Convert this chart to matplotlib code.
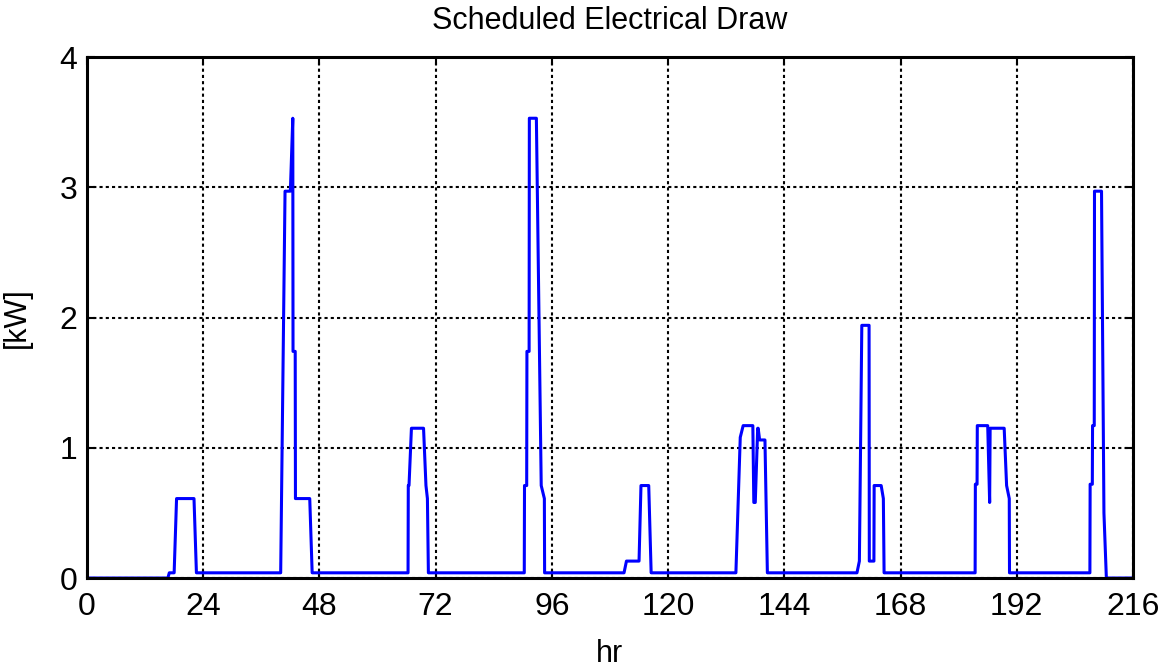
import numpy as np
import matplotlib
matplotlib.use("Agg")
import matplotlib.pyplot as plt

plt.rcParams['font.family'] = ['Liberation Sans', 'DejaVu Sans']

# schedule breakpoints: hour of day count and electrical draw in kW
hours = [0, 16.7, 17.0, 18.0, 18.5, 22.1, 22.6,
         40.0, 40.9, 42.0, 42.5, 42.55, 43.0, 43.05, 46.0, 46.5,
         66.3, 66.35, 66.5, 67.0, 69.5, 70.0, 70.3, 70.5,
         90.3, 90.35, 90.8, 90.85, 91.3, 91.35, 92.8, 93.8, 94.45, 94.5,
         110.9, 111.4, 114.0, 114.4, 116.0, 116.5,
         134.0, 134.9, 135.5, 137.5, 137.7, 138.0, 138.5, 138.6, 138.9, 140.0, 140.5,
         159.0, 159.5, 160.0, 161.5, 161.55, 162.5, 162.55, 164.0, 164.45, 164.6,
         183.4, 183.45, 183.8, 183.85, 186.0, 186.4, 186.5, 189.4, 189.9, 190.45, 190.5,
         207.1, 207.15, 207.6, 207.65, 208.0, 208.05, 209.5, 210.0, 210.5, 216]
kw = [0, 0, 0.04, 0.04, 0.61, 0.61, 0.04,
      0.04, 2.97, 2.97, 3.53, 1.74, 1.74, 0.61, 0.61, 0.04,
      0.04, 0.71, 0.71, 1.15, 1.15, 0.71, 0.61, 0.04,
      0.04, 0.71, 0.71, 1.74, 1.74, 3.53, 3.53, 0.71, 0.61, 0.04,
      0.04, 0.13, 0.13, 0.71, 0.71, 0.04,
      0.04, 1.08, 1.17, 1.17, 0.58, 0.58, 1.15, 1.15, 1.06, 1.06, 0.04,
      0.04, 0.13, 1.94, 1.94, 0.13, 0.13, 0.71, 0.71, 0.61, 0.04,
      0.04, 0.72, 0.72, 1.17, 1.17, 0.58, 1.15, 1.15, 0.71, 0.61, 0.04,
      0.04, 0.72, 0.72, 1.17, 1.17, 2.97, 2.97, 0.5, 0, 0]

xticks = [0, 24, 48, 72, 96, 120, 144, 168, 192, 216]
yticks = [0, 1, 2, 3, 4]

fig = plt.figure(figsize=(11.69, 6.67), dpi=100)
ax = fig.add_axes([0.0744, 0.1334, 0.8948, 0.7811])

ax.plot(hours, kw, color='#0000ff', linewidth=2.2)

ax.set_xlim(0, 216)
ax.set_ylim(0, 4)
ax.set_xticks(xticks)
ax.set_yticks(yticks)
ax.tick_params(direction='in', length=6, width=1.5, labelsize=23,
               top=True, right=True, pad=7)
ax.tick_params(axis='x', pad=10)
ax.grid(True, color='black', linestyle=(0, (1.5, 1.5)), linewidth=1.5)
for s in ax.spines.values():
    s.set_linewidth(2.2)
    s.set_color('black')

ax.set_title('Scheduled Electrical Draw', fontsize=22, pad=20)
ax.set_xlabel('hr', fontsize=22, labelpad=12)
ax.set_ylabel('[kW]', fontsize=22, labelpad=20)

fig.savefig('out.png', dpi=100)
